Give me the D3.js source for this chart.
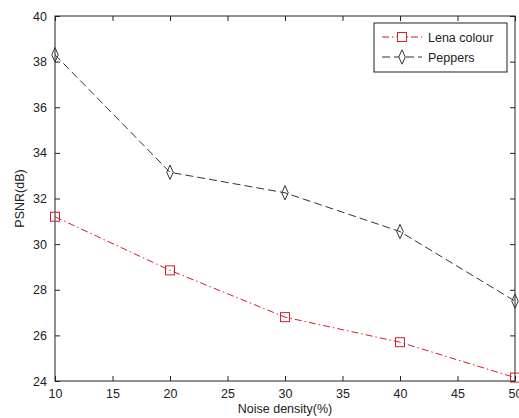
<!DOCTYPE html>
<html>
<head>
<meta charset="utf-8">
<script src="https://cdn.jsdelivr.net/npm/d3@7"></script>
<style>
  body { margin: 0; background: #fff; }
  svg { display: block; font-family: Arial, "Liberation Sans", sans-serif; }
</style>
</head>
<body>
<div id="chart"></div>
<script>
// noise density (%) on the x axis
var noise = [10, 20, 30, 40, 50];
// PSNR values
var lena = [31.2, 28.85, 26.8, 25.7, 24.15];
var peppers = [38.3, 33.15, 32.25, 30.55, 27.5];
var xTicks = [10, 15, 20, 25, 30, 35, 40, 45, 50];
var yTicks = [24, 26, 28, 30, 32, 34, 36, 38, 40];

var width = 519, height = 418;
var margin = {left: 55, top: 16, right: 4, bottom: 37};
var w = width - margin.left - margin.right;
var h = height - margin.top - margin.bottom;

var x = d3.scaleLinear().domain([10, 50]).range([0, w]);
var y = d3.scaleLinear().domain([24, 40]).range([h, 0]);

var svg = d3.select("#chart").append("svg")
  .attr("width", width)
  .attr("height", height);

var main = svg.append("g")
  .attr("transform", "translate(" + margin.left + "," + margin.top + ")");

// frame
main.append("rect")
  .attr("width", w).attr("height", h)
  .attr("fill", "none").attr("stroke", "#222").attr("stroke-width", 1);

function styleAxis(g) {
  g.select(".domain").remove();
  g.selectAll(".tick line").attr("stroke", "#222");
  g.selectAll(".tick text").attr("fill", "#222").style("font-size", "12.5px");
}

// bottom axis, ticks pointing inward
main.append("g")
  .attr("transform", "translate(0," + h + ")")
  .call(d3.axisBottom(x).tickValues(xTicks).tickSize(-5).tickPadding(8))
  .call(styleAxis);
main.append("g")
  .call(d3.axisTop(x).tickValues(xTicks).tickSize(-5).tickFormat(""))
  .call(styleAxis);

// left axis
main.append("g")
  .call(d3.axisLeft(y).tickValues(yTicks).tickSize(-5).tickPadding(8))
  .call(styleAxis);
main.append("g")
  .attr("transform", "translate(" + w + ",0)")
  .call(d3.axisRight(y).tickValues(yTicks).tickSize(-5).tickFormat(""))
  .call(styleAxis);

// axis titles
svg.append("text")
  .attr("x", margin.left + w / 2).attr("y", 413)
  .attr("text-anchor", "middle").style("font-size", "12.5px").attr("fill", "#222")
  .text("Noise density(%)");
svg.append("text")
  .attr("transform", "translate(24," + (margin.top + h / 2) + ") rotate(-90)")
  .attr("text-anchor", "middle").style("font-size", "12.5px").attr("fill", "#222")
  .text("PSNR(dB)");

var line = d3.line()
  .x(function(d) { return x(d[0]); })
  .y(function(d) { return y(d[1]); });

var red = "#d0202c", dark = "#333";

var lenaPts = noise.map(function(n, i) { return [n, lena[i]]; });
var pepPts = noise.map(function(n, i) { return [n, peppers[i]]; });

main.append("path")
  .datum(lenaPts)
  .attr("d", line)
  .attr("fill", "none").attr("stroke", red).attr("stroke-width", 1)
  .attr("stroke-dasharray", "7,3,1.5,3");

main.append("path")
  .datum(pepPts)
  .attr("d", line)
  .attr("fill", "none").attr("stroke", dark).attr("stroke-width", 1)
  .attr("stroke-dasharray", "8,4");

var diamond = d3.symbol().type(d3.symbolDiamond).size(45);

main.selectAll(".sq")
  .data(lenaPts)
  .enter().append("rect")
  .attr("class", "sq")
  .attr("x", function(d) { return x(d[0]) - 4.5; })
  .attr("y", function(d) { return y(d[1]) - 4.5; })
  .attr("width", 9).attr("height", 9)
  .attr("fill", "none").attr("stroke", red);

main.selectAll(".dm")
  .data(pepPts)
  .enter().append("path")
  .attr("class", "dm")
  .attr("transform", function(d) { return "translate(" + x(d[0]) + "," + y(d[1]) + ") scale(0.9,1.15)"; })
  .attr("d", diamond)
  .attr("fill", "none").attr("stroke", dark)
  .attr("vector-effect", "non-scaling-stroke");

// legend
var legend = svg.append("g").attr("transform", "translate(374,23)");
legend.append("rect")
  .attr("width", 133).attr("height", 49)
  .attr("fill", "#fff").attr("stroke", "#222");

var entries = [
  {name: "Lena colour", color: red, dash: "7,3,1.5,3", marker: "sq"},
  {name: "Peppers", color: dark, dash: "8,4", marker: "dm"}
];

entries.forEach(function(e, i) {
  var cy = 14 + i * 20;
  legend.append("line")
    .attr("x1", 8).attr("x2", 48).attr("y1", cy).attr("y2", cy)
    .attr("stroke", e.color).attr("stroke-dasharray", e.dash);
  if (e.marker === "sq") {
    legend.append("rect")
      .attr("x", 23.5).attr("y", cy - 4.5).attr("width", 9).attr("height", 9)
      .attr("fill", "#fff").attr("stroke", e.color);
  } else {
    legend.append("path")
      .attr("transform", "translate(28," + cy + ") scale(0.9,1.15)")
      .attr("d", diamond).attr("fill", "#fff").attr("stroke", e.color)
      .attr("vector-effect", "non-scaling-stroke");
  }
  legend.append("text")
    .attr("x", 54).attr("y", cy + 4.5)
    .style("font-size", "12.5px").attr("fill", "#222")
    .text(e.name);
});
</script>
</body>
</html>
